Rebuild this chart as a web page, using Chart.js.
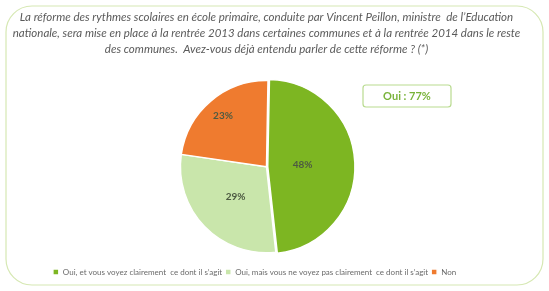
<!DOCTYPE html>
<html>
<head>
<meta charset="utf-8">
<script src="https://cdn.jsdelivr.net/npm/chart.js@4.4.0/dist/chart.umd.min.js"></script>
<style>
  html, body { margin: 0; padding: 0; background: #fff; }
  #wrap { width: 549px; height: 291px; position: relative; }
</style>
</head>
<body>
<div id="wrap"><canvas id="pie" width="549" height="291"></canvas></div>
<script>
// data
var categories = [
    "Oui, et vous voyez clairement  ce dont il s\u2019agit",
    "Oui, mais vous ne voyez pas clairement  ce dont il s\u2019agit",
    "Non"
];
var values = [48, 29, 23];
var colors = ["#7db622", "#c9e6ab", "#ef7b2f"];
var titleLines = [
    "La r\u00e9forme des rythmes scolaires en \u00e9cole primaire, conduite par Vincent Peillon, ministre  de l\u2019Education",
    "nationale, sera mise en place \u00e0 la rentr\u00e9e 2013 dans certaines communes et \u00e0 la rentr\u00e9e 2014 dans le reste",
    "des communes.  Avez-vous d\u00e9j\u00e0 entendu parler de cette r\u00e9forme ? (*)"
];
var totalOui = values[0] + values[1];

// rounded frame + "Oui" box
var frame = {
    id: 'frame',
    afterLayout: function(chart){
        // legend sits a little left of centre and lower in the original
        var lg = chart.legend;
        lg.left -= 12;
        lg.right -= 12;
        lg.top += 9;
        lg.bottom += 9;
    },
    beforeDraw: function(chart){
        var c = chart.ctx;
        c.save();
        c.strokeStyle = '#d6e8b3';
        c.lineWidth = 1.2;
        c.beginPath();
        c.roundRect(6, 6, 537, 279, 26);
        c.stroke();
        c.restore();
    },
    afterDraw: function(chart){
        var c = chart.ctx;
        c.save();
        c.strokeStyle = '#b9db90';
        c.lineWidth = 1.2;
        c.beginPath();
        c.roundRect(363, 85, 88, 22, 3);
        c.stroke();
        c.fillStyle = '#79b33a';
        c.font = 'bold 11px Lato';
        c.textAlign = 'center';
        c.textBaseline = 'middle';
        c.fillText('Oui : ' + totalOui + '%', 407, 96.5);
        c.restore();
    }
};

// percent labels on the slices
var labelDepth = [0.42, 0.5, 0.78];
var sliceLabels = {
    id: 'sliceLabels',
    afterDatasetsDraw: function(chart){
        var c = chart.ctx;
        var meta = chart.getDatasetMeta(0);
        c.save();
        c.fillStyle = '#4d5a42';
        c.font = 'bold 10px Lato';
        c.textAlign = 'center';
        c.textBaseline = 'middle';
        meta.data.forEach(function(arc, i){
            var p = arc.getProps(['x', 'y', 'startAngle', 'endAngle', 'outerRadius'], true);
            var a = (p.startAngle + p.endAngle) / 2;
            var r = p.outerRadius * labelDepth[i];
            c.fillText(values[i] + '%', p.x + Math.cos(a) * r, p.y + Math.sin(a) * r);
        });
        c.restore();
    }
};

new Chart(document.getElementById('pie'), {
    type: 'pie',
    data: {
        labels: categories,
        datasets: [{
            data: values,
            backgroundColor: colors,
            borderColor: '#ffffff',
            borderWidth: 1.5,
            offset: [5, 0, 0]
        }]
    },
    options: {
        responsive: false,
        animation: false,
        rotation: 1,
        layout: { padding: { top: 9, bottom: 14, left: 0, right: 16 } },
        plugins: {
            title: {
                display: true,
                text: titleLines,
                color: '#5a5a5a',
                font: { family: 'Lato', size: 11.5, style: 'italic', weight: 'normal', lineHeight: 1.4 },
                padding: { top: 0, bottom: 20 }
            },
            legend: {
                position: 'bottom',
                labels: {
                    boxWidth: 6,
                    boxHeight: 6,
                    padding: 3,
                    color: '#6a6a6a',
                    font: { family: 'Lato', size: 8 }
                }
            },
            tooltip: { enabled: false }
        }
    },
    plugins: [frame, sliceLabels]
});
</script>
</body>
</html>
